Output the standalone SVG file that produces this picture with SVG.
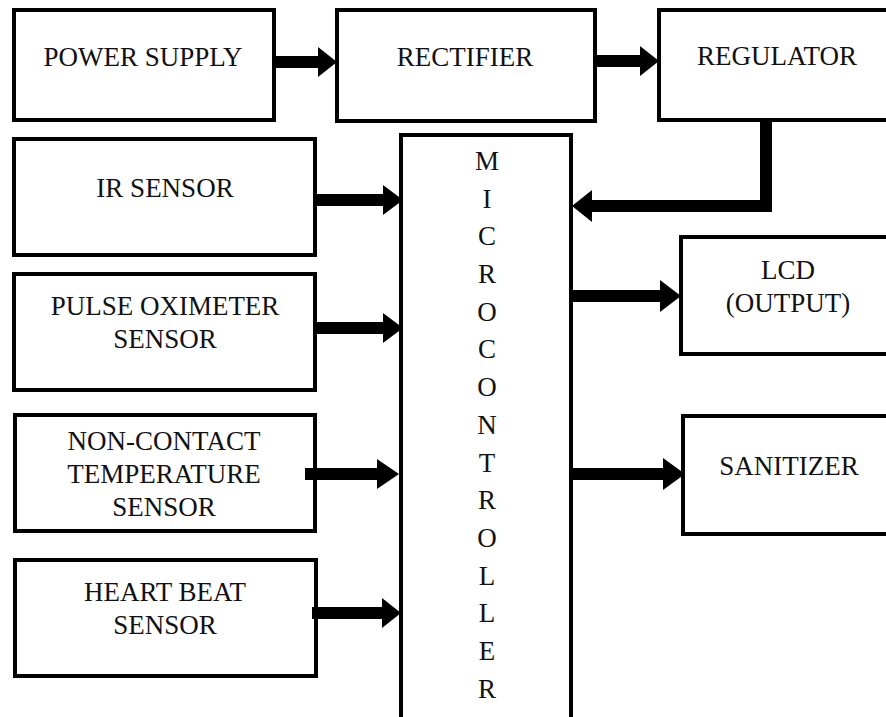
<svg xmlns="http://www.w3.org/2000/svg" width="886" height="717" viewBox="0 0 886 717">
<style>
.box{fill:#fff;stroke:#000;stroke-width:4}
.mc{fill:#fff;stroke:#000;stroke-width:4}
.t{font-size:27px;fill:#111;text-anchor:middle}
.shaft{stroke:#000;stroke-width:12;fill:none}
.head{fill:#000}
</style>
<rect width="886" height="717" fill="#fff"/>
<g font-family="Liberation Serif, DejaVu Serif, serif">
<g id="power-supply"><rect class="box" x="14" y="10" width="260" height="110"/><text class="t" x="143" y="66">POWER SUPPLY</text></g>
<g id="rectifier"><rect class="box" x="337" y="10" width="258" height="111"/><text class="t" x="465" y="66">RECTIFIER</text></g>
<g id="regulator"><rect class="box" x="659" y="10" width="250" height="110"/><text class="t" x="777" y="65">REGULATOR</text></g>
<g id="ir-sensor"><rect class="box" x="14" y="139" width="301" height="116"/><text class="t" x="165" y="197">IR SENSOR</text></g>
<g id="pulse-oximeter"><rect class="box" x="14" y="274" width="301" height="116"/><text class="t" x="165" y="315">PULSE OXIMETER</text><text class="t" x="165" y="348">SENSOR</text></g>
<g id="temperature-sensor"><rect class="box" x="15" y="415" width="300" height="116"/><text class="t" x="164" y="450">NON-CONTACT</text><text class="t" x="164" y="483">TEMPERATURE</text><text class="t" x="164" y="516">SENSOR</text></g>
<g id="heart-beat"><rect class="box" x="15" y="560" width="301" height="116"/><text class="t" x="165" y="601">HEART BEAT</text><text class="t" x="165" y="634">SENSOR</text></g>
<g id="microcontroller"><rect class="mc" x="401" y="135" width="170" height="600"/>
<text class="t" x="487" y="170">M</text><text class="t" x="487" y="208">I</text><text class="t" x="487" y="245">C</text><text class="t" x="487" y="283">R</text><text class="t" x="487" y="321">O</text><text class="t" x="487" y="358">C</text><text class="t" x="487" y="396">O</text><text class="t" x="487" y="434">N</text><text class="t" x="487" y="472">T</text><text class="t" x="487" y="509">R</text><text class="t" x="487" y="547">O</text><text class="t" x="487" y="585">L</text><text class="t" x="487" y="622">L</text><text class="t" x="487" y="660">E</text><text class="t" x="487" y="698">R</text></g>
<g id="lcd"><rect class="box" x="681" y="237" width="250" height="117"/><text class="t" x="788" y="279">LCD</text><text class="t" x="788" y="312">(OUTPUT)</text></g>
<g id="sanitizer"><rect class="box" x="683" y="416" width="250" height="118"/><text class="t" x="789" y="475">SANITIZER</text></g>
</g>
<g id="connectors">
<line class="shaft" x1="276" y1="62" x2="320" y2="62"/><polygon class="head" points="318,47 337,62 318,77"/>
<line class="shaft" x1="597" y1="61" x2="642" y2="61"/><polygon class="head" points="640,46 659,61 640,76"/>
<polyline class="shaft" points="766,122 766,206 590,206"/><polygon class="head" points="592,190 572,206 592,222"/>
<line class="shaft" x1="317" y1="200" x2="385" y2="200"/><polygon class="head" points="383,185 403,200 383,215"/>
<line class="shaft" x1="317" y1="328" x2="385" y2="328"/><polygon class="head" points="383,313 403,328 383,343"/>
<line class="shaft" x1="305" y1="474" x2="379" y2="474"/><polygon class="head" points="377,459 399,474 377,489"/>
<line class="shaft" x1="312" y1="613" x2="384" y2="613"/><polygon class="head" points="382,598 401,613 382,628"/>
<line class="shaft" x1="573" y1="296" x2="662" y2="296"/><polygon class="head" points="660,280 681,296 660,312"/>
<line class="shaft" x1="573" y1="474" x2="665" y2="474"/><polygon class="head" points="663,458 685,474 663,490"/>
</g>
</svg>
